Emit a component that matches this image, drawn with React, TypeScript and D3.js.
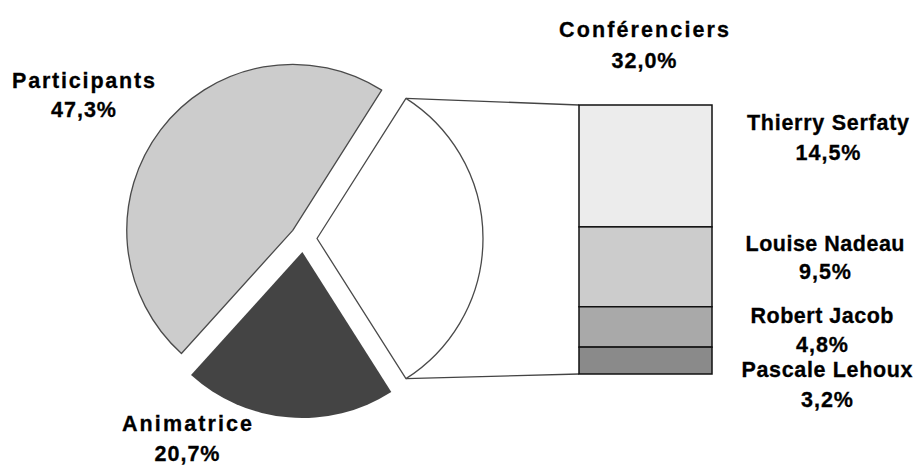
import React from "react";
import * as d3 from "d3";

const pieCategories = ["Conférenciers", "Animatrice", "Participants"];
const pieValues = [32.0, 20.7, 47.3];
const pieColors = ["#ffffff", "#444444", "#cccccc"];

const barCategories = ["Thierry Serfaty", "Louise Nadeau", "Robert Jacob", "Pascale Lehoux"];
const barValues = [14.5, 9.5, 4.8, 3.2];
const barColors = ["#ececec", "#cccccc", "#a9a9a9", "#8a8a8a"];

const W = 917;
const H = 466;
const cx = 303.5;
const cy = 238.5;
const R = 166;
const explode = 13.5;
const barX0 = 579;
const barX1 = 712;
const barTop = 105;
const barBottom = 374;

const fmt = (v: number) => v.toFixed(1).replace(".", ",") + "%";

// layout: [centerX, nameBaseline, nameWidth, valueBaseline]
type LabelLayout = [number, number, number, number];
const pieLabelLayout: Record<string, LabelLayout> = {
  "Conférenciers": [644, 37, 170, 67.5],
  "Animatrice": [187, 431, 130, 460.5],
  "Participants": [83.5, 87.5, 143, 117],
};
const barLabelLayout: LabelLayout[] = [
  [828, 130, 162, 160],
  [825, 251, 159, 279],
  [822, 323, 143, 352],
  [827, 377, 171, 407],
];

export default function App() {
  const total = d3.sum(pieValues);
  const firstFrac = pieValues[0] / total;
  const start = Math.PI / 2 - firstFrac * Math.PI;
  const pie = d3
    .pie<number>()
    .sort(null)
    .value((d) => d)
    .startAngle(start)
    .endAngle(start + 2 * Math.PI);
  const arcs = pie(pieValues);
  const arcGen = d3.arc<d3.PieArcDatum<number>>().innerRadius(0).outerRadius(R);

  const offsets = arcs.map((a) => {
    const mid = (a.startAngle + a.endAngle) / 2;
    return [explode * Math.sin(mid), -explode * Math.cos(mid)];
  });

  const conf = arcs[0];
  const [ox, oy] = offsets[0];
  const topPt = [cx + ox + R * Math.sin(conf.startAngle), cy + oy - R * Math.cos(conf.startAngle)];
  const botPt = [cx + ox + R * Math.sin(conf.endAngle), cy + oy - R * Math.cos(conf.endAngle)];

  const barTotal = d3.sum(barValues);
  const y = d3.scaleLinear().domain([0, barTotal]).range([barTop, barBottom]);
  const cum = d3.cumsum(barValues);

  const textStyle: React.CSSProperties = {
    fontFamily: "'Liberation Sans', Arial, sans-serif",
    fontWeight: "bold",
    fontSize: 21.5,
  };

  const label = (L: LabelLayout, name: string, v: number, key: string) => (
    <g key={key} style={textStyle} textAnchor="middle" fill="#000" stroke="#000" strokeWidth={0.3}>
      <text x={L[0]} y={L[1]} textLength={L[2]} lengthAdjust="spacing">{name}</text>
      <text x={L[0] + 0.5} y={L[3]} style={{ letterSpacing: 1 }}>{fmt(v)}</text>
    </g>
  );

  return (
    <svg
      width={W}
      height={H}
      style={{ position: "absolute", left: 0, top: 0, background: "#fff" }}
    >
      <rect x={0} y={0} width={W} height={H} fill="#fff" />
      <line x1={topPt[0]} y1={topPt[1]} x2={barX0} y2={barTop} stroke="#444" strokeWidth={1.4} />
      <line x1={botPt[0]} y1={botPt[1]} x2={barX0} y2={barBottom} stroke="#444" strokeWidth={1.4} />
      {arcs.map((a, i) => (
        <path
          key={pieCategories[i]}
          d={arcGen(a) || ""}
          transform={`translate(${cx + offsets[i][0]},${cy + offsets[i][1]})`}
          fill={pieColors[i]}
          stroke={i === 1 ? "none" : "#4a4a4a"}
          strokeWidth={1.3}
          strokeLinejoin="round"
        />
      ))}
      {barValues.map((v, i) => (
        <rect
          key={barCategories[i]}
          x={barX0}
          y={y(cum[i] - v)}
          width={barX1 - barX0}
          height={y(cum[i]) - y(cum[i] - v)}
          fill={barColors[i]}
          stroke="#111"
          strokeWidth={1.5}
        />
      ))}
      {pieCategories.map((c, i) => label(pieLabelLayout[c], c, pieValues[i], c))}
      {barCategories.map((c, i) => label(barLabelLayout[i], c, barValues[i], c))}
    </svg>
  );
}
